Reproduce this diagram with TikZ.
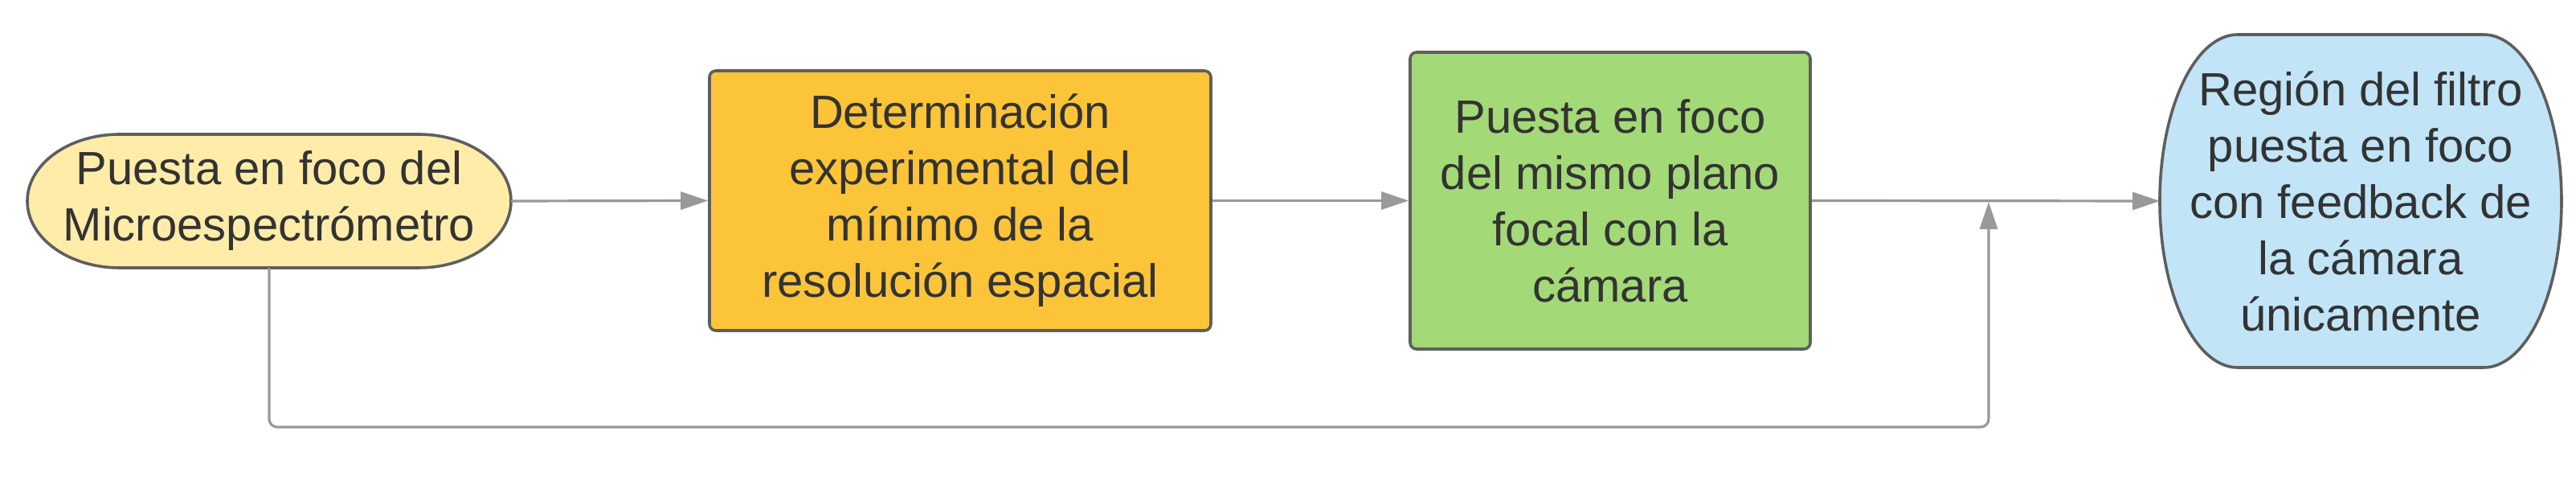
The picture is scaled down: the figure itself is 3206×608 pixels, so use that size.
\documentclass[tikz,border=0pt]{standalone}
\usepackage{fontspec}
\setmainfont{Liberation Sans}
\usetikzlibrary{arrows.meta,calc,backgrounds}

\definecolor{edgegray}{HTML}{5E5E5E}
\definecolor{flowgray}{HTML}{999999}
\definecolor{inkgray}{HTML}{333333}
\definecolor{capyellow}{HTML}{FFECA9}
\definecolor{steporange}{HTML}{FCC438}
\definecolor{stepgreen}{HTML}{A3D977}
\definecolor{capblue}{HTML}{C1E4F7}

\tikzset{every picture/.style={line width=0.75pt}}
\tikzset{
  label text/.style={font=\fontsize{14.5}{17.5}\selectfont, text=inkgray, align=center, inner sep=0pt},
  capnode/.style={label text, outer sep=0pt},
  stepbox/.style={label text, draw=edgegray, line width=0.9pt, rounded corners=2pt},
  capline/.style={draw=edgegray, line width=0.9pt},
  flow/.style={draw=flowgray, line width=0.8pt, -{Triangle[length=8.5pt,width=5.5pt]}}
}

\begin{document}
\begin{tikzpicture}[x=0.25pt,y=0.25pt,yscale=-1,xscale=1]
	\useasboundingbox (0,0) rectangle (3206,608);

	% Start capsule
	\node[capnode, minimum width=150.5pt, minimum height=41.5pt] (yel) at (335,250) {Puesta en foco del\\Microespectrómetro};
	% Process boxes
	\node[stepbox, fill=steporange, minimum width=156pt, minimum height=80.75pt] (det) at (1195,249.5) {Determinación\\experimental del\\mínimo de la\\resolución espacial};
	\node[stepbox, fill=stepgreen, minimum width=124.5pt, minimum height=92.25pt] (foc) at (2004,249.5) {Puesta en foco\\del mismo plano\\focal con la\\cámara};
	% End capsule
	\node[capnode, minimum width=125pt, minimum height=103.5pt] (reg) at (2938,250) {Región del filtro\\puesta en foco\\con feedback de\\la cámara\\únicamente};

	% Capsule outlines
	\begin{scope}[on background layer]
	\draw[capline, fill=capyellow] ($(yel.north west)+(115,0)$) -- ($(yel.north east)+(-115,0)$) arc[start angle=-90, end angle=90, x radius=28.75pt, y radius=20.75pt] -- ($(yel.south west)+(115,0)$) arc[start angle=90, end angle=270, x radius=28.75pt, y radius=20.75pt] -- cycle;
	\draw[capline, fill=capblue] ($(reg.north west)+(97,0)$) -- ($(reg.north east)+(-97,0)$) arc[start angle=-90, end angle=90, x radius=24.25pt, y radius=51.75pt] -- ($(reg.south west)+(97,0)$) arc[start angle=90, end angle=270, x radius=24.25pt, y radius=51.75pt] -- cycle;
	\end{scope}

	% Main flow
	\draw[flow] (yel.east) -- (det.west);
	\draw[flow] (det.east) -- (foc.west);
	\draw[flow] (foc.east) -- (reg.west);

	% Feedback path
	\coordinate (low) at (335,531);
	\coordinate (join) at (2475,251);
	\draw[flow, rounded corners=2.5pt] (yel.south) -- (low) -| (join);

\end{tikzpicture}
\end{document}
